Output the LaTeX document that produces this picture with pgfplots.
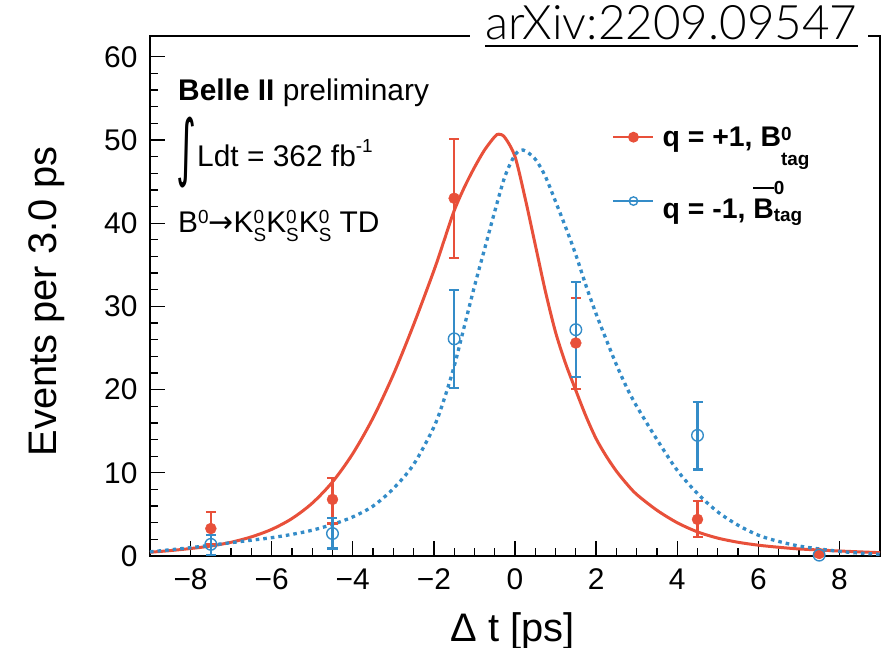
\documentclass[border=0pt]{standalone}
\usepackage{graphicx}
\usepackage{pgfplots}
\pgfplotsset{compat=1.18}
\usepackage{fontspec}
\setmainfont{Liberation Sans}
\newfontfamily\dejavu{DejaVu Sans}
\newfontfamily\lightfont{Lato Light}
\definecolor{bred}{RGB}{232,80,58}
\definecolor{bblue}{RGB}{52,140,200}
\newcommand{\sfs}{\fontsize{19}{19}\selectfont}
\newcommand{\KS}{K\rlap{\raisebox{9bp}{\sfs 0}}\raisebox{-9bp}{\sfs S}}

\pgfplotstableread{
x y ep em
-7.5 3.3 2.0 1.9
-4.5 6.8 2.6 2.9
-1.5 43.0 7.1 7.2
1.5 25.6 5.4 5.5
4.5 4.4 2.2 2.1
7.5 0.3 0.4 0.3
}\redpts
\pgfplotstableread{
x y ep em
-7.5 1.4 1.1 1.3
-4.5 2.7 1.9 1.8
-1.5 26.1 5.9 5.9
1.5 27.2 5.7 5.7
4.5 14.5 4.0 4.1
7.5 0.1 0.0 0.0
}\bluepts

\begin{document}
\begin{tikzpicture}
\begin{axis}[
  scale only axis, width=730bp, height=520bp,
  at={(0,0)}, anchor=south west,
  xmin=-9, xmax=9, ymin=0, ymax=62.5,
  axis line style={line width=1.5bp},
  xtick={-8,-6,-4,-2,0,2,4,6,8},
  xticklabels={−8,−6,−4,−2,0,2,4,6,8},
  ytick={0,10,20,30,40,50,60},
  minor x tick num=3, minor y tick num=4,
  tick align=inside, xtick pos=left, ytick pos=left,
  major tick length=15bp, minor tick length=8bp,
  every tick/.style={black, line width=1.3bp},
  ticklabel style={font=\fontsize{30}{30}\selectfont},
  /pgf/number format/assume math mode=true,
  xticklabel style={yshift=-9bp},
  yticklabel style={xshift=-9bp},
  xlabel={Δ t [ps]}, ylabel={Events per 3.0 ps},
  label style={font=\fontsize{40}{40}\selectfont},
  xlabel style={at={(axis description cs:0.497,-0.165)}, anchor=base, inner sep=0pt},
  ylabel style={at={(axis description cs:-0.117,0.49)}, anchor=south, inner sep=0pt},
  legend style={draw=none, fill=none, at={(axis description cs:0.633,0.826)}, anchor=north west,
    font=\bfseries\fontsize{28.5}{28.5}\selectfont, row sep=34bp, inner sep=0pt,
    nodes={inner sep=0pt}},
  legend cell align=left,
  legend image code/.code={\draw[mark repeat=2,mark phase=2,#1] plot coordinates {(0bp,0bp) (20bp,0bp) (40bp,0bp)};},
]
\addlegendimage{bred, line width=2.4bp, mark=*, mark size=4.2bp, mark options={solid, fill=bred, draw=bred}}
\addlegendentry{\hspace{8bp}q = +1, B\rlap{\raisebox{6bp}{\sfs 0}}\raisebox{-19bp}{\sfs tag}}
\addlegendimage{bblue, line width=2.4bp, mark=o, mark size=4.2bp, mark options={solid, fill=white, draw=bblue, line width=1.4bp}}
\addlegendentry{\hspace{8bp}q = -1, \rlap{\raisebox{30bp}{\rule{21bp}{2.2bp}}}B\rlap{\raisebox{24bp}{\sfs 0}}\raisebox{-3bp}{\sfs tag}}

% fitted curves
\addplot[bred, line width=3bp, smooth, forget plot] coordinates {
(-9,0.45) (-8.5,0.65) (-8,0.9) (-7.5,1.2) (-7,1.65) (-6.5,2.3) (-6,3.2) (-5.5,4.5) (-5,6.35)
(-4.5,8.9) (-4,12.3) (-3.5,16.6) (-3,21.8) (-2.5,27.8) (-2,34.3) (-1.75,37.9) (-1.5,41.5)
(-1.25,44.3) (-1,46.7) (-0.75,48.8) (-0.5,50.4) (-0.4,50.7) (-0.25,50.3) (0,48.0) (0.25,43.0)
(0.5,37.4) (0.75,31.8) (1,26.9) (1.25,23.1) (1.5,19.9) (1.75,16.8) (2,14.1) (2.25,12.0)
(2.5,10.2) (2.75,8.7) (3,7.4) (3.5,5.5) (4,4.0) (4.5,2.9) (5,2.15) (5.5,1.65) (6,1.3)
(6.5,1.05) (7,0.85) (8,0.6) (9,0.4)};
\addplot[bblue, line width=3.3bp, dash pattern=on 3.6bp off 4bp, smooth, forget plot] coordinates {
(-9,0.5) (-8.5,0.75) (-8,1.0) (-7.5,1.3) (-7,1.6) (-6.5,1.9) (-6,2.2) (-5.5,2.6) (-5,3.1)
(-4.5,3.8) (-4,4.7) (-3.5,6.0) (-3,8.1) (-2.5,11.0) (-2,15.5) (-1.75,18.8) (-1.5,22.8)
(-1.25,27.6) (-1,32.4) (-0.75,36.9) (-0.5,41.4) (-0.25,45.6) (0,48.2) (0.2,48.8) (0.5,47.7)
(0.75,45.6) (1,42.6) (1.25,39.5) (1.5,36.2) (1.75,32.5) (2,29.1) (2.25,26.0) (2.5,23.0)
(2.75,20.3) (3,18.0) (3.5,14.0) (4,10.3) (4.5,7.5) (5,5.3) (5.5,3.7) (6,2.5) (6.5,1.75)
(7,1.2) (7.5,0.85) (8,0.55) (8.5,0.35) (9,0.2)};

% data points
\addplot[bred, only marks, mark=*, mark size=5.5bp, mark options={fill=bred, draw=bred}, forget plot,
  error bars/.cd, y dir=both, y explicit, error mark=-,
  error bar style={line width=2.2bp, bred},
  error mark options={rotate=90, line width=2.2bp, mark size=5bp, bred}]
  table[x=x, y=y, y error plus=ep, y error minus=em] {\redpts};
\addplot[bblue, only marks, mark=o, mark size=5.8bp, mark options={fill=white, draw=bblue, line width=1.4bp}, forget plot,
  error bars/.cd, y dir=both, y explicit, error mark=-,
  error bar style={line width=2.2bp, bblue},
  error mark options={rotate=90, line width=2.2bp, mark size=5bp, bblue}]
  table[x=x, y=y, y error plus=ep, y error minus=em] {\bluepts};
\end{axis}

% annotations
\node[anchor=base west, inner sep=0pt, font=\fontsize{30}{36}\selectfont] at (28bp,455bp) {\textbf{Belle II} preliminary};
\node[anchor=base west, inner sep=0pt, font=\fontsize{30}{36}\selectfont] at (26bp,389bp) {\raisebox{-21bp}{\resizebox*{20bp}{71bp}{\raisebox{\depth}{\dejavu ∫}}}\hspace{1bp}Ldt = 362 fb\raisebox{14bp}{\sfs -1}};
\node[anchor=base west, inner sep=0pt, font=\fontsize{30}{36}\selectfont] at (28bp,323bp) {B\raisebox{9bp}{\sfs 0}{\dejavu →}\KS\KS\KS\ TD};

% arXiv stamp
\fill[white] (320bp,508bp) rectangle (718bp,534bp);
\node[anchor=base west, inner sep=0pt, font=\lightfont\fontsize{48}{50}\selectfont] at (335bp,516bp) {\resizebox{372bp}{!}{arXiv:2209.09547}};
\draw[line width=1.6bp] (335bp,510bp) -- (708bp,510bp);

\pgfresetboundingbox
\path[use as bounding box] (-150bp,-92bp) rectangle (738bp,556bp);
\end{tikzpicture}
\end{document}
